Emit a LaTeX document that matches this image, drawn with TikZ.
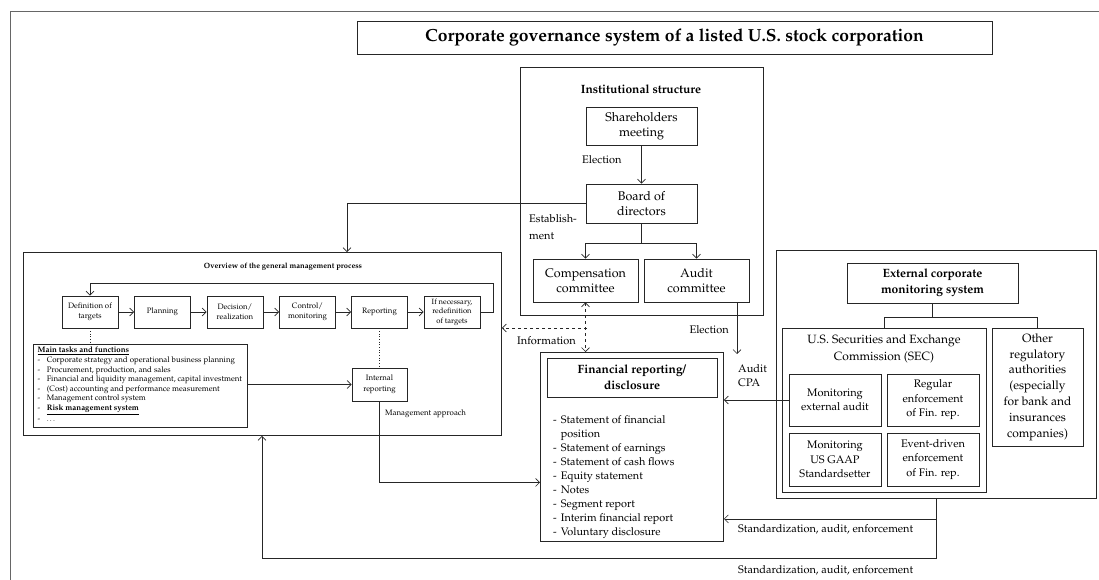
\documentclass[tikz,border=0pt]{standalone}
\usepackage[T1]{fontenc}
\renewcommand{\rmdefault}{ppl}
\usetikzlibrary{arrows.meta,calc}
\newcommand{\setfs}[2]{\fontsize{#1}{#2}\selectfont}

\begin{document}
\begin{tikzpicture}[x=1pt,y=-1pt,
  box/.style={draw=black!85, line width=0.9pt, inner sep=0pt, align=center},
  frame/.style={draw=black!85, line width=0.9pt, inner sep=0pt, anchor=north west},
  lbl/.style={inner sep=0pt, align=left},
  conn/.style={draw=black!85, line width=0.65pt},
  arr/.style={conn, -{Straight Barb[length=4pt,width=8pt]}},
  darr/.style={conn, dashed, {Straight Barb[length=4pt,width=8pt]}-{Straight Barb[length=4pt,width=8pt]}},
  big/.style={font=\setfs{12.5}{15}},
  mid/.style={font=\setfs{11}{14}},
  small/.style={font=\setfs{7.8}{10.5}},
]
\useasboundingbox (0,0) rectangle (1099,579);
\clip (0,0) rectangle (1099,579);

% page frame (runs past the right and lower edges)
\node[frame, draw=black!60, minimum width=1120pt, minimum height=600pt] (page) at (9.5,11) {};

% title
\node[box, minimum width=635pt, minimum height=33pt, font=\setfs{17.5}{20}\bfseries] (title) at (674.5,37.5)
  {Corporate governance system of a listed U.S. stock corporation};

% ---------------- institutional structure ----------------
\node[frame, minimum width=243pt, minimum height=248pt] (inst) at (520,67) {};
\node[lbl, font=\setfs{12}{14}\bfseries] (instT) at (641,89) {Institutional structure};
\node[box, big, minimum width=111pt, minimum height=38pt] (sh) at (641.5,126) {Shareholders\\meeting};
\node[box, big, minimum width=111pt, minimum height=39pt] (bd) at (641.5,203.5) {Board of\\directors};
\node[box, big, minimum width=105pt, minimum height=43pt] (comp) at (585.5,280.5) {Compensation\\committee};
\node[box, big, minimum width=105pt, minimum height=43pt] (aud) at (696.5,280.5) {Audit\\committee};
\node[lbl, mid, anchor=west] (elec1) at (582,160) {Election};
\node[lbl, font=\setfs{11}{17}, anchor=north west] (estab) at (529,214) {Establish-\\ment};

\draw[arr] (sh) -- (bd);
\draw[conn] (bd.south) -- ++(0,20) coordinate (brI);
\draw[arr] (brI) -| (comp.north);
\draw[arr] (brI) -| (aud.north);

% ---------------- management process ----------------
\node[frame, minimum width=478pt, minimum height=183pt] (ov) at (23,252) {};
\node[lbl, font=\setfs{7.6}{10}\bfseries] (ovT) at (283,267) {Overview of the general management process};

\node[box, small, minimum width=56pt, minimum height=32pt] (p1) at (90,312) {Definition of\\targets};
\node[box, small, minimum width=56pt, minimum height=32pt] (p2) at (162.5,312) {Planning};
\node[box, small, minimum width=56pt, minimum height=32pt] (p3) at (235,312) {Decision/\\realization};
\node[box, small, minimum width=56pt, minimum height=32pt] (p4) at (307.5,312) {Control/\\monitoring};
\node[box, small, minimum width=56pt, minimum height=32pt] (p5) at (379.5,312) {Reporting};
\node[box, font=\setfs{7.6}{9.5}, minimum width=56pt, minimum height=32pt] (p6) at (452,312) {If necessary,\\redefinition\\of targets};

\draw[arr] (p1) -- (p2);
\draw[arr] (p2) -- (p3);
\draw[arr] (p3) -- (p4);
\draw[arr] (p4) -- (p5);
\draw[arr] (p5) -- (p6);
\draw[arr] (p6.east) -- ++(13,0) -- ++(0,-29) -| (p1.north);

\node[frame, minimum width=214pt, minimum height=83pt] (tasks) at (33,344) {};
\node[lbl, anchor=north west, font=\setfs{7.9}{9.6}] (tasksT) at (37.5,346) {%
  \begin{tabular}{@{}l@{\hspace{6.5pt}}l@{}}
  \multicolumn{2}{@{}l@{}}{\underline{\textbf{Main tasks and functions}}}\\
  - & Corporate strategy and operational business planning\\
  - & Procurement, production, and sales\\
  - & Financial and liquidity management, capital investment\\
  - & (Cost) accounting and performance measurement\\
  - & Management control system\\
  - & \underline{\textbf{Risk management system}}\\
  - & \dots
  \end{tabular}};

\node[box, small, minimum width=55pt, minimum height=33pt] (ir) at (379.5,384.5) {Internal\\reporting};
\draw[conn, dotted, line width=1pt] (p1.south) -- (p1.south |- tasks.north);
\draw[conn, dotted, line width=1pt] (p5.south) -- (ir.north);
\draw[arr] (ir.west -| tasks.east) -- (ir.west);
\node[lbl, font=\setfs{7.9}{10}, anchor=west] (mgmt) at (385,414) {Management approach};

% board of directors sets up the management
\draw[arr] (bd.west) -| ([xshift=324pt]ov.north west);

% ---------------- financial reporting ----------------
\node[frame, minimum width=183pt, minimum height=189pt] (fin) at (540,352) {};
\node[box, font=\setfs{12}{16}\bfseries, minimum width=170pt, minimum height=39pt] (finT) at (632,377.5)
  {Financial reporting/\\disclosure};
\node[lbl, anchor=north west, font=\setfs{10.9}{13.9}] (finL) at (553,414) {%
  \begin{tabular}{@{}l@{\hspace{4pt}}l@{}}
  - & Statement of financial\\
    & position\\
  - & Statement of earnings\\
  - & Statement of cash flows\\
  - & Equity statement\\
  - & Notes\\
  - & Segment report\\
  - & Interim financial report\\
  - & Voluntary disclosure
  \end{tabular}};

\draw[darr] (comp.south) -- (comp.south |- fin.north);
\coordinate (infoJ) at (587,328);
\draw[conn, dashed, -{Straight Barb[length=4pt,width=8pt]}] (infoJ) -- (infoJ -| ov.east);
\node[lbl, mid, anchor=west] (info) at (517,341) {Information};

\draw[arr] (ir.south) |- ($(fin.west)+(0,35.5)$);

\coordinate (audEnd) at (737,354);
\draw[arr] (aud.south -| audEnd) -- (audEnd);
\node[lbl, mid, anchor=east] (elec2) at (729,330) {Election};
\node[lbl, anchor=north west, font=\setfs{11}{14}] (cpa) at (738,364) {Audit\\CPA};

% ---------------- external monitoring ----------------
\node[frame, minimum width=320pt, minimum height=248pt] (ext) at (776,250) {};
\node[box, font=\setfs{12}{16}\bfseries, minimum width=171pt, minimum height=40pt] (extT) at (932.5,283)
  {External corporate\\monitoring system};
\node[frame, minimum width=204pt, minimum height=164pt] (sec) at (782,328) {};
\node[lbl, align=center, font=\setfs{12}{17}] (secT) at (884,348.5) {U.S. Securities and Exchange\\Commission (SEC)};
\node[box, font=\setfs{11}{13.5}, minimum width=92pt, minimum height=52pt] (mea) at (835,400) {Monitoring\\external audit};
\node[box, font=\setfs{11}{14.5}, minimum width=92pt, minimum height=52pt] (reg) at (933,400) {Regular\\enforcement\\of Fin. rep.};
\node[box, font=\setfs{11}{14.5}, minimum width=92pt, minimum height=53pt] (mus) at (835,459.5) {Monitoring\\US GAAP\\Standardsetter};
\node[box, font=\setfs{11}{14.5}, minimum width=92pt, minimum height=53pt] (evd) at (933,459.5) {Event-driven\\enforcement\\of Fin. rep.};
\node[box, font=\setfs{12}{15.8}, minimum width=91pt, minimum height=118pt] (oth) at (1037.5,387)
  {Other\\regulatory\\authorities\\(especially\\for bank and\\insurances\\companies)};

\draw[conn] (extT.south) -- ++(0,14) coordinate (brE);
\draw[conn] (brE) -| (sec.north);
\draw[conn] (brE) -| (oth.north);

\draw[arr] (mea.west) -- (mea.west -| fin.east);

\coordinate (sb1) at ($(ext.south)+(0,20)$);
\draw[conn] (ext.south) -- (sb1);
\draw[arr] (sb1) -- (sb1 -| fin.east);
\draw[arr] (sb1) -- ++(0,39) -| ([xshift=239pt]ov.south west);
\node[lbl, mid, anchor=west] (std1) at (738,529) {Standardization, audit, enforcement};
\node[lbl, mid, anchor=west] (std2) at (738,570) {Standardization, audit, enforcement};

\end{tikzpicture}
\end{document}
